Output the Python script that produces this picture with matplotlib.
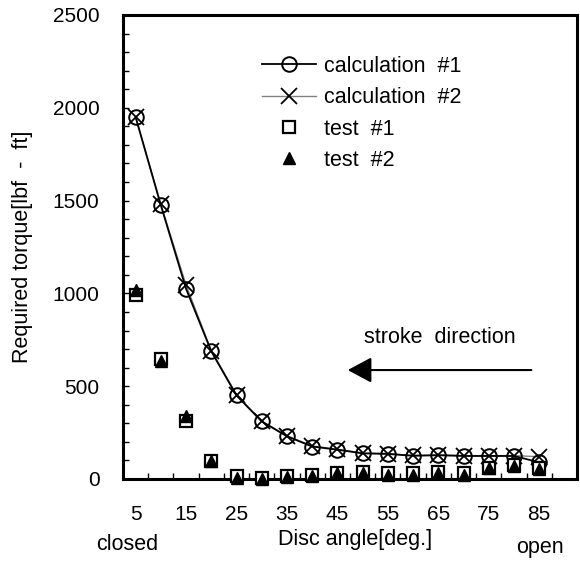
import matplotlib
matplotlib.use("Agg")
import matplotlib.pyplot as plt
from matplotlib.patches import FancyArrowPatch
from matplotlib.ticker import MultipleLocator, FixedLocator

plt.rcParams['font.family'] = ['Liberation Sans', 'DejaVu Sans']

# disc angle [deg.] and required torque [lbf - ft]
angle = [5, 10, 15, 20, 25, 30, 35, 40, 45, 50, 55, 60, 65, 70, 75, 80, 85]
calc1 = [1950, 1475, 1025, 688, 450, 310, 230, 175, 158, 138, 135, 125, 128, 124, 124, 124, 90]
calc2 = [1952, 1480, 1045, 692, 455, 312, 233, 178, 160, 140, 137, 127, 130, 126, 126, 126, 120]
test1 = [990, 645, 310, 95, 18, 8, 18, 22, 31, 39, 32, 32, 39, 32, 61, 75, 57]
test2 = [1020, 635, 340, 97, 3, 0, 13, 16, 31, 35, 22, 22, 35, 22, 58, 70, 52]

xticks = [5, 15, 25, 35, 45, 55, 65, 75, 85]

fs = 15.5

fig = plt.figure(figsize=(5.8, 5.62), dpi=100)
ax = fig.add_axes([123/580, 1 - 479/562, 454/580, 464/562])

ax.plot(angle, calc1, color='black', lw=1.3, marker='o', ms=10.5,
        mfc='none', mec='black', mew=1.4, label='calculation  #1', zorder=4)
ax.plot(angle, calc2, color='#808080', lw=1.0, marker='x', ms=12,
        mec='black', mew=1.3, label='calculation  #2', zorder=3)
ax.plot(angle, test1, ls='none', marker='s', ms=9, mfc='white', mec='black',
        mew=1.6, label='test  #1', zorder=5, clip_on=False)
ax.plot(angle, test2, ls='none', marker='^', ms=8, mfc='black', mec='black',
        label='test  #2', zorder=6, clip_on=False)

ax.set_xlim(2.5, 92.5)
ax.set_ylim(0, 2500)

ax.yaxis.set_major_locator(MultipleLocator(500))
ax.yaxis.set_minor_locator(MultipleLocator(100))
ax.xaxis.set_major_locator(FixedLocator(xticks))
ax.xaxis.set_minor_locator(FixedLocator([a + 2.5 for a in angle]))

ax.tick_params(axis='y', which='both', direction='in', length=4, width=1,
               labelsize=15, pad=17)
ax.tick_params(axis='x', which='major', length=0, labelsize=15, pad=19)
ax.tick_params(axis='x', which='minor', direction='in', length=4, width=1)

for s in ax.spines.values():
    s.set_linewidth(2.2)

ax.set_ylabel('Required torque[lbf  -  ft]', fontsize=fs)
ax.yaxis.set_label_coords(-0.198, 0.5)

fig.text(355/580, 1 - 540/562, 'Disc angle[deg.]', fontsize=fs, ha='center', va='center')
fig.text(127/580, 1 - 545/562, 'closed', fontsize=fs, ha='center', va='center')
fig.text(540/580, 1 - 548/562, 'open', fontsize=fs, ha='center', va='center')

ax.text(65.4, 760, 'stroke  direction', fontsize=fs, ha='center', va='center')
arrow = FancyArrowPatch((84, 587), (46.5, 587), arrowstyle='-|>,head_length=1.4,head_width=0.75',
                        mutation_scale=10.5, color='black', lw=1.5)
ax.add_patch(arrow)

ax.legend(loc='upper left', bbox_to_anchor=(262/580, 1 - 56/562),
          bbox_transform=fig.transFigure, frameon=False, fontsize=fs,
          handlelength=2.5, handletextpad=0.4, labelspacing=0.48,
          borderpad=0, borderaxespad=0)

fig.savefig('out.png', dpi=100)
